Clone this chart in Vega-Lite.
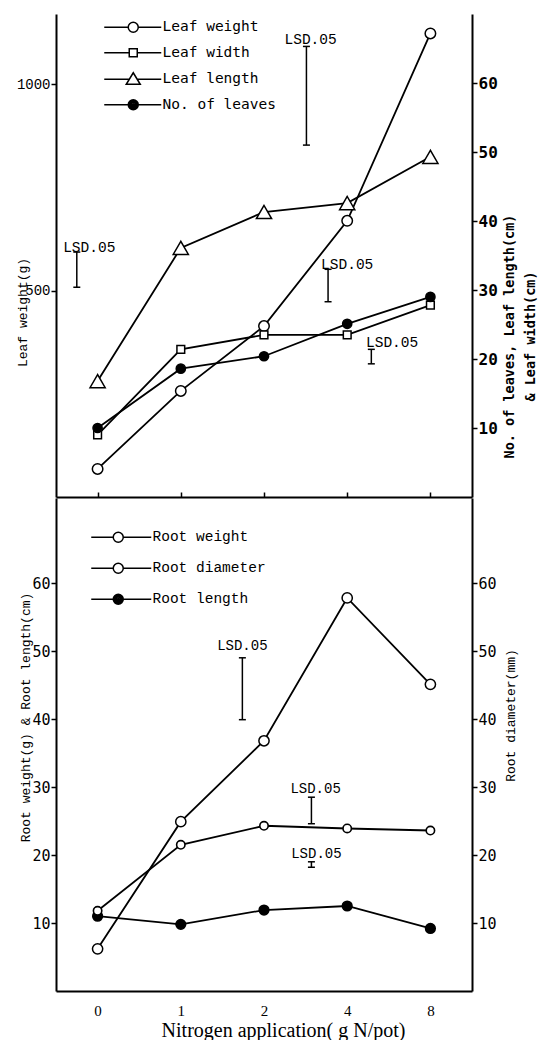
{
  "$schema": "https://vega.github.io/schema/vega-lite/v6.json",
  "background": "white",
  "padding": {"left": 16, "top": 14, "right": 5, "bottom": 0},
  "datasets": {
    "top": [
      {"pos": 0, "series": "Leaf weight", "value": 68},
      {"pos": 1, "series": "Leaf weight", "value": 257},
      {"pos": 2, "series": "Leaf weight", "value": 414},
      {"pos": 3, "series": "Leaf weight", "value": 669},
      {"pos": 4, "series": "Leaf weight", "value": 1123},
      {"pos": 0, "series": "Leaf width", "value": 9.0},
      {"pos": 1, "series": "Leaf width", "value": 21.4},
      {"pos": 2, "series": "Leaf width", "value": 23.5},
      {"pos": 3, "series": "Leaf width", "value": 23.5},
      {"pos": 4, "series": "Leaf width", "value": 27.8},
      {"pos": 0, "series": "Leaf length", "value": 16.8},
      {"pos": 1, "series": "Leaf length", "value": 36.1},
      {"pos": 2, "series": "Leaf length", "value": 41.3},
      {"pos": 3, "series": "Leaf length", "value": 42.6},
      {"pos": 4, "series": "Leaf length", "value": 49.3},
      {"pos": 0, "series": "No. of leaves", "value": 10.0},
      {"pos": 1, "series": "No. of leaves", "value": 18.6},
      {"pos": 2, "series": "No. of leaves", "value": 20.4},
      {"pos": 3, "series": "No. of leaves", "value": 25.1},
      {"pos": 4, "series": "No. of leaves", "value": 29.0}
    ],
    "topLSD": [
      {"pos": 2.51, "value": 51.0, "hi": 65.3},
      {"pos": -0.25, "value": 30.4, "hi": 35.5},
      {"pos": 2.77, "value": 28.3, "hi": 33.0},
      {"pos": 3.29, "value": 19.3, "hi": 21.4}
    ],
    "topLbl": [
      {"pos": 2.56, "value": 66.2, "label": "LSD.05"},
      {"pos": -0.1, "value": 36.1, "label": "LSD.05"},
      {"pos": 3.0, "value": 33.6, "label": "LSD.05"},
      {"pos": 3.54, "value": 22.3, "label": "LSD.05"}
    ],
    "bottom": [
      {"pos": 0, "series": "Root weight", "value": 6.2},
      {"pos": 1, "series": "Root weight", "value": 24.9},
      {"pos": 2, "series": "Root weight", "value": 36.8},
      {"pos": 3, "series": "Root weight", "value": 57.8},
      {"pos": 4, "series": "Root weight", "value": 45.1},
      {"pos": 0, "series": "Root diameter", "value": 11.8},
      {"pos": 1, "series": "Root diameter", "value": 21.5},
      {"pos": 2, "series": "Root diameter", "value": 24.3},
      {"pos": 3, "series": "Root diameter", "value": 23.9},
      {"pos": 4, "series": "Root diameter", "value": 23.6},
      {"pos": 0, "series": "Root length", "value": 11.0},
      {"pos": 1, "series": "Root length", "value": 9.8},
      {"pos": 2, "series": "Root length", "value": 11.9},
      {"pos": 3, "series": "Root length", "value": 12.5},
      {"pos": 4, "series": "Root length", "value": 9.2}
    ],
    "botLSD": [
      {"pos": 1.74, "value": 39.9, "hi": 49.0},
      {"pos": 2.57, "value": 24.6, "hi": 28.5},
      {"pos": 2.57, "value": 18.2, "hi": 19.0}
    ],
    "botLbl": [
      {"pos": 1.74, "value": 50.7, "label": "LSD.05"},
      {"pos": 2.62, "value": 29.7, "label": "LSD.05"},
      {"pos": 2.63, "value": 20.1, "label": "LSD.05"}
    ]
  },
  "spacing": 0,
  "vconcat": [
    {
      "width": 416,
      "height": 483,
      "encoding": {
        "x": {"field": "pos", "type": "quantitative", "scale": {"domain": [-0.5, 4.5], "nice": false, "zero": false},
              "axis": {"orient": "bottom", "values": [0, 1, 2, 3, 4], "labels": false, "title": null, "tickSize": -5}}
      },
      "layer": [
        {
          "encoding": {
            "y": {"field": "value", "type": "quantitative", "scale": {"domain": [0, 1170], "nice": false, "zero": false},
                  "axis": {"orient": "left", "values": [500, 1000], "format": "d", "title": "Leaf  weight(g)", "labelFont": "Liberation Mono", "labelFontSize": 14,
                           "tickSize": 5, "labelPadding": 1, "titleFont": "Liberation Mono", "titleFontSize": 13, "titleFontWeight": "normal",
                           "titleAngle": -90, "titleX": -34, "titleY": 298, "titleBaseline": "middle"}}
          },
          "layer": [
            {"data": {"name": "top"}, "transform": [{"filter": "datum.series === 'Leaf weight'"}],
             "mark": {"type": "line", "color": "black", "strokeWidth": 1.8}},
            {"data": {"name": "top"}, "transform": [{"filter": "datum.series === 'Leaf weight'"}],
             "mark": {"type": "point", "shape": "circle", "filled": true, "fill": "white", "stroke": "black", "strokeWidth": 1.5, "size": 110, "opacity": 1}}
          ]
        },
        {
          "encoding": {
            "y": {"field": "value", "type": "quantitative", "scale": {"domain": [0, 70], "nice": false, "zero": false},
                  "axis": {"orient": "right", "values": [10, 20, 30, 40, 50, 60], "labelFont": "DejaVu Sans Mono", "labelFontSize": 16, "labelFontWeight": "bold",
                           "tickSize": 5, "labelPadding": 1,
                           "title": ["No. of leaves, Leaf length(cm)", "\u00a0\u00a0\u00a0\u00a0\u00a0\u00a0\u00a0\u00a0\u00a0\u00a0\u00a0\u00a0\u00a0\u00a0\u00a0\u00a0\u00a0\u00a0\u00a0\u00a0\u00a0\u00a0\u00a0\u00a0\u00a0\u00a0\u00a0\u00a0\u00a0\u00a0\u00a0\u00a0\u00a0\u00a0& Leaf width(cm)"],
                           "titleFont": "DejaVu Sans Mono", "titleFontSize": 13.5, "titleFontWeight": "bold", "titleAngle": -90,
                           "titleX": 37, "titleY": 322, "titleBaseline": "middle", "titleLineHeight": 21}}
          },
          "layer": [
            {"data": {"name": "top"}, "transform": [{"filter": "datum.series !== 'Leaf weight'"}],
             "mark": {"type": "line", "color": "black", "strokeWidth": 1.8},
             "encoding": {"detail": {"field": "series", "type": "nominal"}}},
            {"data": {"name": "top"}, "transform": [{"filter": "datum.series === 'Leaf width'"}],
             "mark": {"type": "point", "shape": "square", "filled": true, "fill": "white", "stroke": "black", "strokeWidth": 1.5, "size": 60, "opacity": 1}},
            {"data": {"name": "top"}, "transform": [{"filter": "datum.series === 'Leaf length'"}],
             "mark": {"type": "point", "shape": "triangle-up", "filled": true, "fill": "white", "stroke": "black", "strokeWidth": 1.5, "size": 230, "opacity": 1}},
            {"data": {"name": "top"}, "transform": [{"filter": "datum.series === 'No. of leaves'"}],
             "mark": {"type": "point", "shape": "circle", "filled": true, "fill": "black", "stroke": "black", "strokeWidth": 1.5, "size": 85, "opacity": 1}},
            {"data": {"name": "topLSD"}, "mark": {"type": "rule", "color": "black", "strokeWidth": 1.5},
             "encoding": {"y2": {"field": "hi"}}},
            {"data": {"name": "topLSD"}, "mark": {"type": "point", "shape": "stroke", "size": 49, "filled": false, "color": "black", "strokeWidth": 1.5, "opacity": 1}},
            {"data": {"name": "topLSD"}, "mark": {"type": "point", "shape": "stroke", "size": 49, "filled": false, "color": "black", "strokeWidth": 1.5, "opacity": 1},
             "encoding": {
               "y": {"field": "hi", "type": "quantitative", "scale": {"domain": [0, 70], "nice": false, "zero": false},
                     "axis": {"orient": "right", "values": [10, 20, 30, 40, 50, 60], "labelFont": "DejaVu Sans Mono", "labelFontSize": 16, "labelFontWeight": "bold",
                              "tickSize": 5, "labelPadding": 1,
                              "title": ["No. of leaves, Leaf length(cm)", "\u00a0\u00a0\u00a0\u00a0\u00a0\u00a0\u00a0\u00a0\u00a0\u00a0\u00a0\u00a0\u00a0\u00a0\u00a0\u00a0\u00a0\u00a0\u00a0\u00a0\u00a0\u00a0\u00a0\u00a0\u00a0\u00a0\u00a0\u00a0\u00a0\u00a0\u00a0\u00a0\u00a0\u00a0& Leaf width(cm)"],
                              "titleFont": "DejaVu Sans Mono", "titleFontSize": 13.5, "titleFontWeight": "bold", "titleAngle": -90,
                              "titleX": 37, "titleY": 322, "titleBaseline": "middle", "titleLineHeight": 21}}
             }},
            {"data": {"name": "topLbl"}, "mark": {"type": "text", "font": "Liberation Mono", "fontSize": 14.5, "color": "black", "baseline": "middle", "align": "center"},
             "encoding": {"text": {"field": "label"}}}
          ]
        },
        {
          "data": {"name": "top"},
          "mark": {"type": "point", "opacity": 0, "color": "black"},
          "encoding": {
            "shape": {"field": "series", "type": "nominal",
                      "scale": {"domain": ["Leaf weight", "Leaf width", "Leaf length", "No. of leaves"],
                                "range": [
                                  "M-5.8,0L-1,0M1,0L5.6,0M1,0A1,1,0,1,1,-1,0A1,1,0,1,1,1,0Z",
                                  "M-5.8,0L-0.8,0M0.8,0L5.6,0M-0.8,-0.8L0.8,-0.8L0.8,0.8L-0.8,0.8Z",
                                  "M-5.8,0L-0.79,0M0.79,0L5.6,0M0,-1.3L1.4,1L-1.4,1Z",
                                  "M-5.8,0L-1,0M1,0L5.6,0M1,0A1,1,0,1,1,-1,0A1,1,0,1,1,1,0ZM0.72,0A0.72,0.72,0,1,1,-0.72,0A0.72,0.72,0,1,1,0.72,0ZM0.44,0A0.44,0.44,0,1,1,-0.44,0A0.44,0.44,0,1,1,0.44,0ZM0.16,0A0.16,0.16,0,1,1,-0.16,0A0.16,0.16,0,1,1,0.16,0Z"
                                ]},
                      "legend": {"orient": "none", "legendX": 70, "legendY": 6, "title": null, "padding": 0,
                                 "labelFont": "DejaVu Sans Mono", "labelFontSize": 14.5, "labelColor": "black",
                                 "symbolStrokeColor": "black", "symbolStrokeWidth": 1.5, "symbolSize": 100, "symbolOpacity": 1,
                                 "symbolFillColor": "transparent", "labelOffset": 22, "rowPadding": 8.5}}
          }
        }
      ],
      "resolve": {"scale": {"y": "independent", "shape": "independent"}, "legend": {"shape": "independent"}}
    },
    {
      "width": 416,
      "height": 493,
      "encoding": {
        "x": {"field": "pos", "type": "quantitative", "scale": {"domain": [-0.5, 4.5], "nice": false, "zero": false},
              "axis": {"orient": "bottom", "values": [0, 1, 2, 3, 4], "labelExpr": "['0','1','2','4','8'][datum.value]", "ticks": false,
                       "labelPadding": 12, "labelFont": "Liberation Serif", "labelFontSize": 15,
                       "title": "Nitrogen application( g N/pot)", "titleFont": "Liberation Serif", "titleFontSize": 20, "titleFontWeight": "normal",
                       "titleX": 227, "titleY": 45, "titleBaseline": "alphabetic"}}
      },
      "layer": [
        {
          "encoding": {
            "y": {"field": "value", "type": "quantitative", "scale": {"domain": [0, 72.5], "nice": false, "zero": false},
                  "axis": {"orient": "left", "values": [10, 20, 30, 40, 50, 60], "labelFont": "DejaVu Sans Mono", "labelFontSize": 15,
                           "tickSize": 5, "labelPadding": 1, "title": "Root weight(g)  & Root length(cm)", "titleFont": "Liberation Mono",
                           "titleFontSize": 13, "titleFontWeight": "normal", "titleAngle": -90, "titleX": -31, "titleY": 219, "titleBaseline": "middle"}}
          },
          "layer": [
            {"data": {"name": "bottom"}, "transform": [{"filter": "datum.series !== 'Root diameter'"}],
             "mark": {"type": "line", "color": "black", "strokeWidth": 1.8},
             "encoding": {"detail": {"field": "series", "type": "nominal"}}},
            {"data": {"name": "bottom"}, "transform": [{"filter": "datum.series === 'Root weight'"}],
             "mark": {"type": "point", "shape": "circle", "filled": true, "fill": "white", "stroke": "black", "strokeWidth": 1.5, "opacity": 1, "size": 105}},
            {"data": {"name": "bottom"}, "transform": [{"filter": "datum.series === 'Root length'"}],
             "mark": {"type": "point", "shape": "circle", "filled": true, "fill": "black", "stroke": "black", "strokeWidth": 1.5, "opacity": 1, "size": 95}},
            {"data": {"name": "botLSD"}, "mark": {"type": "rule", "color": "black", "strokeWidth": 1.5},
             "encoding": {"y2": {"field": "hi"}}},
            {"data": {"name": "botLSD"}, "mark": {"type": "point", "shape": "stroke", "size": 49, "filled": false, "color": "black", "strokeWidth": 1.5, "opacity": 1}},
            {"data": {"name": "botLSD"}, "mark": {"type": "point", "shape": "stroke", "size": 49, "filled": false, "color": "black", "strokeWidth": 1.5, "opacity": 1},
             "encoding": {
               "y": {"field": "hi", "type": "quantitative", "scale": {"domain": [0, 72.5], "nice": false, "zero": false},
                     "axis": {"orient": "left", "values": [10, 20, 30, 40, 50, 60], "labelFont": "DejaVu Sans Mono", "labelFontSize": 15,
                              "tickSize": 5, "labelPadding": 1, "title": "Root weight(g)  & Root length(cm)", "titleFont": "Liberation Mono",
                              "titleFontSize": 13, "titleFontWeight": "normal", "titleAngle": -90, "titleX": -31, "titleY": 219, "titleBaseline": "middle"}}
             }},
            {"data": {"name": "botLbl"}, "mark": {"type": "text", "font": "Liberation Mono", "fontSize": 14, "color": "black", "baseline": "middle", "align": "center"},
             "encoding": {"text": {"field": "label"}}}
          ]
        },
        {
          "encoding": {
            "y": {"field": "value", "type": "quantitative", "scale": {"domain": [0, 72.5], "nice": false, "zero": false},
                  "axis": {"orient": "right", "values": [10, 20, 30, 40, 50, 60], "labelFont": "DejaVu Sans Mono", "labelFontSize": 15,
                           "tickSize": 5, "labelPadding": 1, "title": "Root  diameter(mm)", "titleFont": "Liberation Mono",
                           "titleFontSize": 13, "titleFontWeight": "normal", "titleAngle": -90, "titleX": 38, "titleY": 217, "titleBaseline": "middle"}}
          },
          "layer": [
            {"data": {"name": "bottom"}, "transform": [{"filter": "datum.series === 'Root diameter'"}],
             "mark": {"type": "line", "color": "black", "strokeWidth": 1.8}},
            {"data": {"name": "bottom"}, "transform": [{"filter": "datum.series === 'Root diameter'"}],
             "mark": {"type": "point", "shape": "circle", "filled": true, "fill": "white", "stroke": "black", "strokeWidth": 1.6, "opacity": 1, "size": 70}}
          ]
        },
        {
          "data": {"name": "bottom"},
          "mark": {"type": "point", "opacity": 0, "color": "black"},
          "encoding": {
            "shape": {"field": "series", "type": "nominal",
                      "scale": {"domain": ["Root weight", "Root diameter", "Root length"],
                                "range": [
                                  "M-5.4,0L-1,0M1,0L6.6,0M1,0A1,1,0,1,1,-1,0A1,1,0,1,1,1,0Z",
                                  "M-5.4,0L-1,0M1,0L6.6,0M1,0A1,1,0,1,1,-1,0A1,1,0,1,1,1,0Z",
                                  "M-5.4,0L-1,0M1,0L6.6,0M1,0A1,1,0,1,1,-1,0A1,1,0,1,1,1,0ZM0.72,0A0.72,0.72,0,1,1,-0.72,0A0.72,0.72,0,1,1,0.72,0ZM0.44,0A0.44,0.44,0,1,1,-0.44,0A0.44,0.44,0,1,1,0.44,0ZM0.16,0A0.16,0.16,0,1,1,-0.16,0A0.16,0.16,0,1,1,0.16,0Z"
                                ]},
                      "legend": {"orient": "none", "legendX": 55, "legendY": 32, "title": null, "padding": 0,
                                 "labelFont": "Liberation Mono", "labelFontSize": 14.5, "labelColor": "black",
                                 "symbolStrokeColor": "black", "symbolStrokeWidth": 1.5, "symbolSize": 100, "symbolOpacity": 1,
                                 "symbolFillColor": "transparent", "labelOffset": 27, "rowPadding": 14}}
          }
        }
      ],
      "resolve": {"scale": {"y": "independent", "shape": "independent"}, "legend": {"shape": "independent"}}
    }
  ],
  "resolve": {"scale": {"shape": "independent"}, "legend": {"shape": "independent"}},
  "config": {
    "view": {"stroke": null},
    "axis": {"grid": false, "domainColor": "black", "tickColor": "black", "labelColor": "black", "titleColor": "black", "domainWidth": 2, "tickWidth": 1.5}
  }
}
